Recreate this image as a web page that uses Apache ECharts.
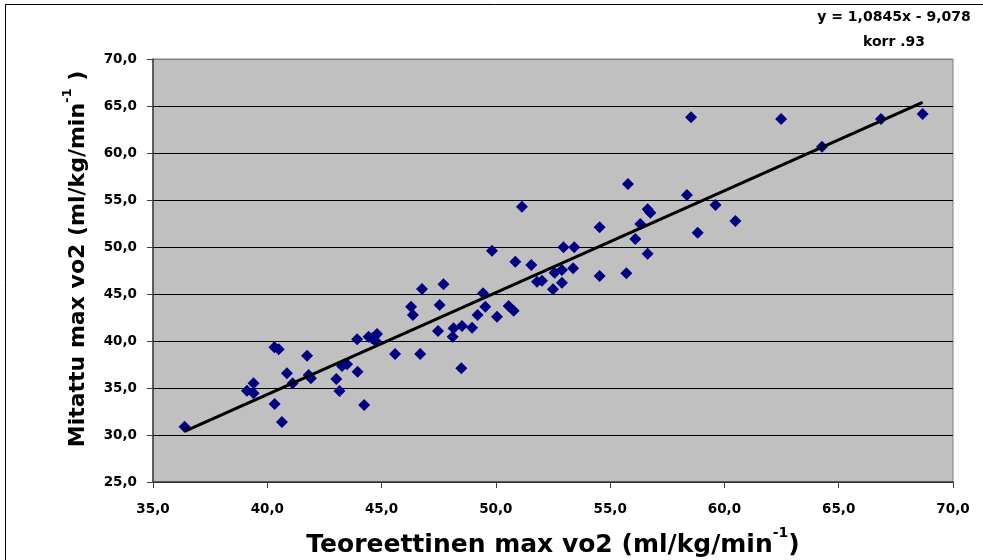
<!DOCTYPE html>
<html>
<head>
<meta charset="utf-8">
<script src="https://cdn.jsdelivr.net/npm/echarts@6/dist/echarts.min.js"></script>
<style>
html,body{margin:0;padding:0;background:#fff;}
#chart{width:983px;height:560px;}
</style>
</head>
<body>
<div id="chart"></div>
<script>
// Teoreettinen (x) vs Mitattu (y) max vo2
const teoreettinen = [
  36.38, 39.11, 39.40, 39.40, 40.32, 40.64, 40.31, 40.50, 40.86, 41.11,
  41.74, 41.81, 41.91, 43.02, 43.16, 43.27, 43.49, 43.95, 43.93, 44.24,
  44.43, 44.58, 44.80, 44.73, 45.59, 46.69, 46.29, 46.37, 46.77, 47.71,
  47.54, 47.47, 48.15, 48.11, 48.52, 48.49, 48.96, 49.20, 49.44, 49.54,
  49.83, 50.05, 50.56, 50.78, 50.85, 51.14, 51.55, 51.80, 52.02, 52.50,
  52.57, 52.89, 52.89, 52.96, 53.38, 53.43, 54.54, 54.54, 55.71, 55.78,
  56.10, 56.32, 56.64, 56.76, 56.64, 58.36, 58.54, 58.83, 59.61, 60.48,
  62.48, 64.27, 66.85, 68.67
];
const mitattu = [
  30.88, 34.71, 35.50, 34.44, 33.30, 31.38, 39.33, 39.12, 36.56, 35.50,
  38.44, 36.38, 36.03, 35.96, 34.68, 37.34, 37.52, 36.73, 40.18, 33.19,
  40.46, 40.29, 40.74, 40.03, 38.62, 38.62, 43.65, 42.77, 45.53, 46.03,
  43.83, 41.06, 41.35, 40.46, 41.60, 37.09, 41.42, 42.77, 45.07, 43.65,
  49.61, 42.59, 43.72, 43.22, 48.44, 54.29, 48.09, 46.31, 46.41, 45.50,
  47.27, 47.55, 46.20, 49.97, 47.73, 49.97, 52.10, 46.91, 47.20, 56.70,
  50.85, 52.45, 54.01, 53.65, 49.29, 55.53, 63.80, 51.52, 54.47, 52.77,
  63.62, 60.67, 63.62, 64.15
];
// Trend line (from the chart's equation y = 1,0845x - 9,078)
const trendSlope = 1.0845;
const trendIntercept = -9.078;
const trendX = [36.38, 68.67];
const xTickLabels = ['35,0','40,0','45,0','50,0','55,0','60,0','65,0','70,0'];
const yTickLabels = ['25,0','30,0','35,0','40,0','45,0','50,0','55,0','60,0','65,0','70,0'];
const equationText = 'y = 1,0845x - 9,078';
const korrText = 'korr .93';

const points = teoreettinen.map((x, i) => [x, mitattu[i]]);
const trend = trendX.map(x => [x, trendSlope * x + trendIntercept]);

const FONT = 'DejaVu Sans';
const chart = echarts.init(document.getElementById('chart'), null, {renderer: 'canvas'});
const gridLineColors = yTickLabels.map((t, i) => i === yTickLabels.length - 1 ? '#808080' : '#000000');

chart.setOption({
  animation: false,
  backgroundColor: '#ffffff',
  grid: {left: 153, right: 30, top: 59, bottom: 78, show: true,
         backgroundColor: '#C0C0C0', borderColor: '#808080', borderWidth: 1},
  xAxis: {
    type: 'value', min: 35, max: 70, interval: 5,
    axisLine: {show: true, onZero: false, lineStyle: {color: '#404040', width: 1.5}},
    axisTick: {show: true, inside: false, length: 6, lineStyle: {color: '#404040'}},
    axisLabel: {margin: 20, color: '#000', fontFamily: FONT, fontWeight: 'bold', fontSize: 13.5,
      formatter: v => xTickLabels[Math.round((v - 35) / 5)]},
    splitLine: {show: false}
  },
  yAxis: {
    type: 'value', min: 25, max: 70, interval: 5,
    axisLine: {show: true, onZero: false, lineStyle: {color: '#404040', width: 1.5}},
    axisTick: {show: true, inside: false, length: 6, lineStyle: {color: '#404040'}},
    axisLabel: {margin: 16, color: '#000', fontFamily: FONT, fontWeight: 'bold', fontSize: 13.5,
      formatter: v => yTickLabels[Math.round((v - 25) / 5)]},
    splitLine: {show: true, lineStyle: {color: gridLineColors, width: 1}}
  },
  series: [
    {type: 'scatter', data: points, symbol: 'diamond', symbolSize: 12,
     itemStyle: {color: '#000080', opacity: 1}, z: 3},
    {type: 'line', data: trend, symbol: 'none', silent: true,
     lineStyle: {color: '#000000', width: 3}, z: 4}
  ],
  graphic: [
    {type: 'rect', shape: {x: 5.5, y: 4.5, width: 1200, height: 800},
     style: {fill: 'none', stroke: '#000', lineWidth: 1}, silent: true, z: 0},
    {type: 'text', x: 894, y: 17,
     style: {text: equationText, font: 'bold 14px "DejaVu Sans"', fill: '#000',
             align: 'center', verticalAlign: 'middle'}},
    {type: 'text', x: 894, y: 42,
     style: {text: korrText, font: 'bold 14px "DejaVu Sans"', fill: '#000',
             align: 'center', verticalAlign: 'middle'}},
    {type: 'text', x: 553, y: 542,
     style: {text: '{a|Teoreettinen max vo2 (ml/kg/min}{s|-1}{a|)}', align: 'center', verticalAlign: 'middle',
       rich: {
         a: {fontFamily: FONT, fontWeight: 'bold', fontSize: 25, fill: '#000', lineHeight: 32, verticalAlign: 'bottom'},
         s: {fontFamily: FONT, fontWeight: 'bold', fontSize: 14, fill: '#000', lineHeight: 32, verticalAlign: 'top'}
       }}},
    {type: 'text', x: 75, y: 259, rotation: Math.PI / 2,
     style: {text: '{a|Mitattu max vo2 (ml/kg/min}{s|-1}{a| )}', align: 'center', verticalAlign: 'middle',
       rich: {
         a: {fontFamily: FONT, fontWeight: 'bold', fontSize: 22, fill: '#000', lineHeight: 28, verticalAlign: 'bottom'},
         s: {fontFamily: FONT, fontWeight: 'bold', fontSize: 13, fill: '#000', lineHeight: 28, verticalAlign: 'top'}
       }}}
  ]
});
</script>
</body>
</html>
